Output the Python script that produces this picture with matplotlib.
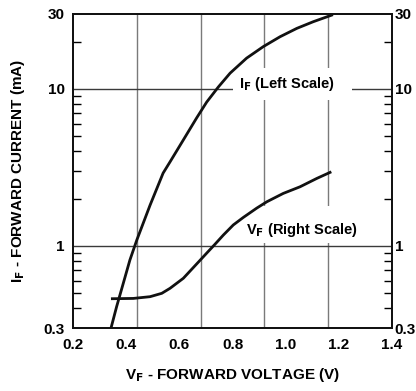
import matplotlib
matplotlib.use('Agg')
import matplotlib.pyplot as plt
from matplotlib.ticker import LogLocator, NullFormatter, FixedLocator
from matplotlib.patches import Rectangle

plt.rcParams['font.family'] = ['Liberation Sans Narrow', 'Liberation Sans', 'DejaVu Sans']
plt.rcParams['font.weight'] = 'bold'
plt.rcParams['mathtext.fontset'] = 'custom'
plt.rcParams['mathtext.rm'] = 'Liberation Sans Narrow:bold'
plt.rcParams['mathtext.bf'] = 'Liberation Sans Narrow:bold'

# I_F curve (left scale)
if_x = [0.343, 0.364, 0.389, 0.414, 0.440, 0.490, 0.539, 0.565, 0.615, 0.665, 0.703,
        0.747, 0.791, 0.853, 0.916, 0.979, 1.042, 1.104, 1.173]
if_y = [0.30, 0.410, 0.577, 0.813, 1.09, 1.82, 2.91, 3.43, 4.73, 6.53, 8.25,
        10.3, 12.6, 15.7, 18.6, 21.5, 24.3, 26.8, 29.5]

# V_F curve (right scale)
vf_x = [0.348, 0.427, 0.490, 0.534, 0.565, 0.615, 0.665, 0.703, 0.733, 0.765, 0.803, 0.841,
        0.891, 0.929, 0.991, 1.054, 1.117, 1.167]
vf_y = [0.461, 0.463, 0.475, 0.499, 0.537, 0.622, 0.767, 0.90, 1.02, 1.17, 1.36, 1.52,
        1.74, 1.91, 2.16, 2.38, 2.69, 2.94]

x_ticks = [0.2, 0.4, 0.6, 0.8, 1.0, 1.2, 1.4]
x_grid = [0.44, 0.68, 0.92, 1.16]
y_ticks = [0.3, 1, 10, 30]
y_labels = ['0.3', '1', '10', '30']
y_grid = [1, 10]

fig = plt.figure(figsize=(4.16, 3.91), dpi=100)
ax = fig.add_axes([0.1755, 0.1611, 0.7668, 0.8031])

#grid
for gx in x_grid:
    ax.axvline(gx, color='#7a7a7a', lw=1.0, zorder=1)
for gy in y_grid:
    ax.axhline(gy, color='#3a3a3a', lw=1.0, zorder=1)

# white boxes behind the curve labels
ax.add_patch(Rectangle((0.502, 0.726), 0.373, 0.102, transform=ax.transAxes,
                       facecolor='white', edgecolor='none', zorder=2))
ax.add_patch(Rectangle((0.533, 0.271), 0.351, 0.118, transform=ax.transAxes,
                       facecolor='white', edgecolor='none', zorder=2))

ax.plot(if_x, if_y, color='#111111', lw=2.0, zorder=3, solid_joinstyle='round')
ax.plot(vf_x, vf_y, color='#111111', lw=2.0, zorder=3, solid_joinstyle='round')

ax.text(0.52, 0.777, r'I$_{\mathbf{F}}$ (Left Scale)', transform=ax.transAxes,
        fontsize=10.5, fontweight='bold', va='center', ha='left', zorder=4)
ax.text(0.542, 0.312, r'V$_{\mathbf{F}}$ (Right Scale)', transform=ax.transAxes,
        fontsize=10.5, fontweight='bold', va='center', ha='left', zorder=4)

ax.set_xlim(0.2, 1.4)
ax.set_yscale('log')
ax.set_ylim(0.3, 30)
ax.set_xticks(x_ticks)
ax.set_xticklabels(['%.1f' % v for v in x_ticks])
ax.yaxis.set_major_locator(FixedLocator(y_ticks))
ax.set_yticklabels(y_labels)
ax.yaxis.set_minor_locator(LogLocator(base=10, subs=[2, 3, 4, 5, 6, 7, 8, 9]))
ax.yaxis.set_minor_formatter(NullFormatter())
ax.tick_params(axis='x', length=0, pad=7, labelsize=11)
ax.tick_params(axis='y', which='major', length=0, pad=6, labelsize=11)
ax.tick_params(axis='y', which='minor', direction='in', length=6, width=1)

ax2 = ax.twinx()
ax2.set_yscale('log')
ax2.set_ylim(0.3, 30)
ax2.yaxis.set_major_locator(FixedLocator(y_ticks))
ax2.set_yticklabels(y_labels)
ax2.yaxis.set_minor_locator(LogLocator(base=10, subs=[2, 3, 4, 5, 6, 7, 8, 9]))
ax2.yaxis.set_minor_formatter(NullFormatter())
ax2.tick_params(axis='y', which='major', length=0, pad=2, labelsize=11)
ax2.tick_params(axis='y', which='minor', direction='in', length=6, width=1)

for a in (ax, ax2):
    for s in a.spines.values():
        s.set_linewidth(1.3)
        s.set_color('#111111')

ax.set_xlabel(r'V$_{\mathbf{F}}$ - FORWARD VOLTAGE (V)', fontsize=11, fontweight='bold', labelpad=10)
ax.set_ylabel(r'I$_{\mathbf{F}}$ - FORWARD CURRENT (mA)', fontsize=11, fontweight='bold', labelpad=12)

fig.savefig('out.png', dpi=100)
